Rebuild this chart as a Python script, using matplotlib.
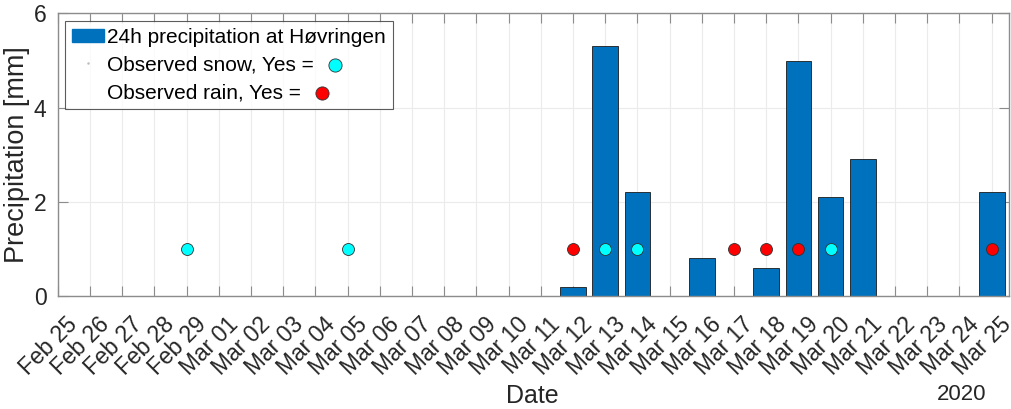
import datetime as dt
import matplotlib
matplotlib.use("Agg")
import matplotlib.pyplot as plt
import matplotlib.dates as mdates
import matplotlib.transforms as mtransforms
from matplotlib.lines import Line2D
from matplotlib.patches import Patch

plt.rcParams['font.family'] = ['Liberation Sans', 'DejaVu Sans']

# 24h precipitation at Høvringen, spring 2020
bar_days = ["2020-03-12", "2020-03-13", "2020-03-14", "2020-03-16", "2020-03-18",
            "2020-03-19", "2020-03-20", "2020-03-21", "2020-03-25"]
bar_mm = [0.2, 5.3, 2.2, 0.8, 0.6, 5.0, 2.1, 2.9, 2.2]

# days with observed snow / rain (drawn as markers at y = 1)
snow_days = ["2020-02-29", "2020-03-05", "2020-03-13", "2020-03-14", "2020-03-20"]
rain_days = ["2020-03-12", "2020-03-17", "2020-03-18", "2020-03-19", "2020-03-25"]
obs_level = 1

start = dt.datetime(2020, 2, 25)
end = dt.datetime(2020, 3, 25)


def to_dates(days):
    return [dt.datetime.strptime(d, "%Y-%m-%d") for d in days]


blue = '#0072BD'
axcol = '#8c8c8c'
txtcol = '#262626'

fig = plt.figure(figsize=(10.11, 4.09), dpi=100)
ax = fig.add_axes([0.0571, 0.2763, 0.941, 0.6907])

ax.bar(to_dates(bar_days), bar_mm, width=0.8, color=blue, edgecolor='#1a1a1a',
       linewidth=0.6, zorder=2)
ax.plot(to_dates(snow_days), [obs_level] * len(snow_days), 'o', ms=8.6,
        mfc='cyan', mec='#303030', mew=0.6, zorder=3)
ax.plot(to_dates(rain_days), [obs_level] * len(rain_days), 'o', ms=8.6,
        mfc='red', mec='#303030', mew=0.6, zorder=3)

ax.set_xlim(start, end + dt.timedelta(hours=13))
ax.set_ylim(0, 6)
ax.set_yticks([0, 2, 4, 6])
ax.xaxis.set_major_locator(mdates.DayLocator())
ax.xaxis.set_major_formatter(mdates.DateFormatter('%b %d'))

ax.grid(True, color='#ebebeb', linewidth=0.8, zorder=0)
ax.set_axisbelow(True)
for s in ax.spines.values():
    s.set_color(axcol)
    s.set_linewidth(1.0)
ax.tick_params(direction='in', length=7, color=axcol, top=True, right=True,
               labelsize=16.5, labelcolor=txtcol)
ax.tick_params(axis='x', pad=0)
ax.tick_params(axis='y', pad=8)

# rotated date labels, ending just right of and below each tick
shift = mtransforms.ScaledTranslation(8 / 100, -17 / 100, fig.dpi_scale_trans)
for lab in ax.get_xticklabels():
    lab.set_rotation(45)
    lab.set_ha('right')
    lab.set_va('top')
    lab.set_rotation_mode('anchor')
    lab.set_transform(lab.get_transform() + shift)

ax.set_ylabel('Precipitation [mm]', fontsize=19.5, color=txtcol, labelpad=3)
fig.text(532 / 1011, 1 - 396 / 409, 'Date', ha='center', va='center',
         fontsize=18, color=txtcol)
fig.text(962 / 1011, 1 - 395 / 409, '2020', ha='center', va='center',
         fontsize=16, color=txtcol)

handles = [Patch(facecolor=blue, edgecolor=blue),
           Line2D([], [], ls='none', marker='.', ms=1.5, color='#bbbbbb'),
           Line2D([], [], ls='none', marker='.', ms=0, color='white')]
labels = ['24h precipitation at Høvringen', 'Observed snow, Yes = ',
          'Observed rain, Yes = ']
leg = ax.legend(handles, labels, loc='upper left', fontsize=15, frameon=True,
                fancybox=False, edgecolor='#333333', borderaxespad=0.36,
                handlelength=1.55, handleheight=0.6, handletextpad=0.15,
                labelspacing=0.42, borderpad=0.32)
leg.get_frame().set_linewidth(0.8)
leg.set_zorder(5)

# put the sample circles right after the snow / rain legend texts
fig.canvas.draw()
inv = ax.transAxes.inverted()
for txt, col in zip(leg.get_texts()[1:], ['cyan', 'red']):
    bb = txt.get_window_extent()
    x, y = inv.transform((bb.x1 + 15, (bb.y0 + bb.y1) / 2))
    ax.plot([x], [y], 'o', ms=9.5, mfc=col, mec='#303030', mew=0.6,
            transform=ax.transAxes, zorder=6, clip_on=False)

fig.savefig('out.png', dpi=100)
